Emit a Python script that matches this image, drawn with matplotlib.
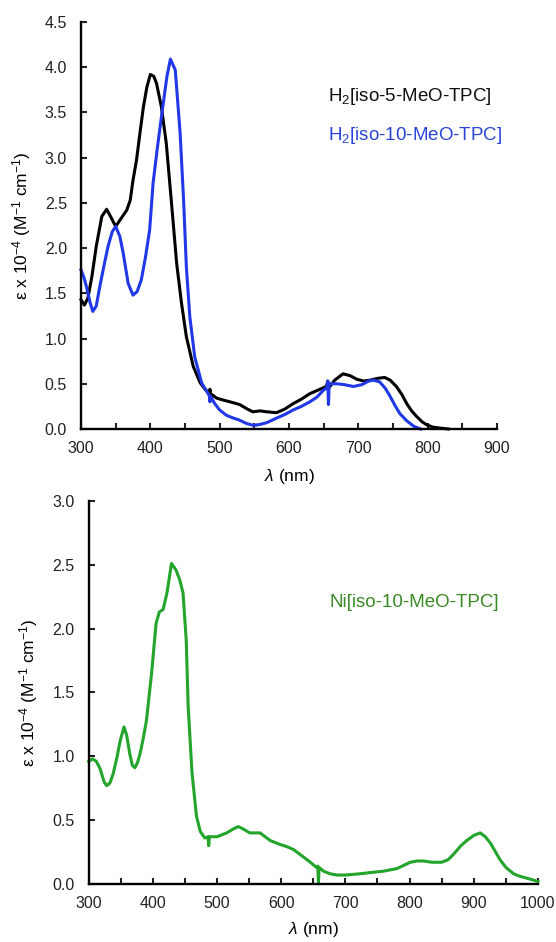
import matplotlib
matplotlib.use('Agg')
import matplotlib.pyplot as plt
from matplotlib.ticker import MultipleLocator, FormatStrFormatter

plt.rcParams['font.family'] = ['Liberation Sans', 'DejaVu Sans']
plt.rcParams['mathtext.fontset'] = 'custom'
plt.rcParams['mathtext.rm'] = 'Liberation Sans'
plt.rcParams['mathtext.it'] = 'Liberation Sans:italic'
plt.rcParams['mathtext.default'] = 'regular'

# H2[iso-5-MeO-TPC] (black)
wl_5 = [300, 305, 310, 316, 322, 330, 337, 344, 350, 358, 366, 371, 375, 380, 385,
        390, 395, 400, 405, 409, 416, 423, 431, 438, 445, 452, 462, 472, 480,
        485, 486, 487, 496, 505, 515, 529, 540, 548, 558, 568, 582, 594, 606,
        618, 630, 642, 654, 656, 658, 666, 678, 688, 698, 708, 717, 728, 738,
        746, 755, 763, 770, 777, 784, 792, 799, 808, 818, 830]
eps_5 = [1.43, 1.37, 1.45, 1.70, 2.02, 2.35, 2.43, 2.33, 2.24, 2.33, 2.42, 2.53, 2.75,
         2.97, 3.27, 3.56, 3.78, 3.92, 3.90, 3.82, 3.56, 3.16, 2.46, 1.83, 1.39,
         1.02, 0.69, 0.51, 0.43, 0.40, 0.44, 0.39, 0.34, 0.32, 0.30, 0.27, 0.22,
         0.19, 0.20, 0.19, 0.18, 0.22, 0.28, 0.33, 0.39, 0.43, 0.47, 0.53, 0.46,
         0.54, 0.61, 0.59, 0.55, 0.53, 0.54, 0.56, 0.57, 0.54, 0.47, 0.38, 0.28,
         0.20, 0.14, 0.08, 0.045, 0.02, 0.01, 0.0]

# H2[iso-10-MeO-TPC] (blue)
wl_10 = [300, 304, 308, 313, 317, 322, 327, 333, 339, 345, 350, 356, 361, 368, 375,
         381, 387, 393, 399, 404, 410, 416, 424, 429, 436, 443, 448, 452, 457,
         464, 474, 481, 485, 486, 487, 493, 500, 510, 520, 528, 539, 549, 558,
         568, 582, 594, 606, 618, 630, 640, 650, 655, 656, 657, 658, 669, 680,
         693, 705, 715, 722, 731, 739, 746, 753, 760, 770, 780, 790]
eps_10 = [1.76, 1.68, 1.57, 1.40, 1.30, 1.36, 1.57, 1.80, 2.02, 2.18, 2.24, 2.13, 1.94,
          1.61, 1.48, 1.52, 1.65, 1.90, 2.20, 2.72, 3.10, 3.45, 3.90, 4.09, 3.97,
          3.27, 2.53, 1.79, 1.24, 0.80, 0.51, 0.42, 0.37, 0.30, 0.36, 0.28, 0.21,
          0.15, 0.12, 0.10, 0.06, 0.04, 0.05, 0.07, 0.12, 0.16, 0.21, 0.25, 0.30,
          0.35, 0.43, 0.46, 0.53, 0.27, 0.50, 0.50, 0.49, 0.47, 0.49, 0.53, 0.54,
          0.52, 0.45, 0.36, 0.26, 0.17, 0.09, 0.03, 0.0]

# Ni[iso-10-MeO-TPC] (green)
wl_ni = [300, 306, 312, 318, 324, 328, 333, 338, 344, 349, 355, 359, 364, 368, 372,
         376, 380, 385, 390, 398, 405, 410, 416, 422, 429, 436, 442, 447, 452,
         455, 461, 468, 474, 481, 486, 487, 488, 500, 515, 525, 533, 541, 551,
         567, 575, 583, 598, 610, 619, 627, 635, 643, 650, 655, 657, 658, 659,
         666, 676, 687, 700, 723, 740, 759, 780, 801, 812, 822, 835, 850, 860,
         868, 880, 889, 900, 910, 918, 926, 934, 941, 950, 962, 972, 983, 1000]
eps_ni = [0.96, 0.98, 0.96, 0.90, 0.80, 0.77, 0.79, 0.86, 0.99, 1.12, 1.23, 1.17, 1.02,
          0.93, 0.91, 0.95, 1.02, 1.14, 1.28, 1.65, 2.04, 2.13, 2.15, 2.28, 2.51,
          2.46, 2.38, 2.28, 1.91, 1.39, 0.87, 0.53, 0.41, 0.36, 0.37, 0.30, 0.37,
          0.37, 0.40, 0.43, 0.45, 0.43, 0.40, 0.40, 0.37, 0.34, 0.31, 0.29, 0.27,
          0.24, 0.21, 0.18, 0.15, 0.13, 0.14, 0.0, 0.13, 0.10, 0.08, 0.07, 0.07,
          0.08, 0.09, 0.10, 0.12, 0.17, 0.18, 0.18, 0.17, 0.17, 0.19, 0.23, 0.30,
          0.34, 0.38, 0.40, 0.37, 0.32, 0.25, 0.19, 0.13, 0.08, 0.06, 0.045, 0.02]

ylab = r'ε x 10$^{-4}$ (M$^{-1}$ cm$^{-1}$)'
xlab = r'$\mathit{λ}$ (nm)'

black = '#000000'
blue = '#2038e6'
green = '#22a52a'

fig = plt.figure(figsize=(5.56, 9.42), dpi=100)
ax1 = fig.add_axes([0.1457, 0.5446, 0.748, 0.432])
ax2 = fig.add_axes([0.1595, 0.0616, 0.808, 0.4066])


def style(ax, xmax, ymax):
    ax.set_xlim(300, xmax)
    ax.set_ylim(0, ymax)
    for s in ['top', 'right']:
        ax.spines[s].set_visible(False)
    for s in ['left', 'bottom']:
        ax.spines[s].set_linewidth(1.7)
    ax.xaxis.set_major_locator(MultipleLocator(100))
    ax.xaxis.set_minor_locator(MultipleLocator(50))
    ax.yaxis.set_major_locator(MultipleLocator(0.5))
    ax.yaxis.set_major_formatter(FormatStrFormatter('%.1f'))
    ax.tick_params(which='both', direction='in', length=4, width=1.5,
                   labelsize=11.5, colors='#222222')
    ax.tick_params(axis='x', which='both', pad=9)
    ax.tick_params(axis='y', pad=10)
    ax.tick_params(which='minor', labelbottom=False)


style(ax1, 900, 4.5)
ax1.plot(wl_5, eps_5, color=black, lw=2.2, clip_on=False)
ax1.plot(wl_10, eps_10, color=blue, lw=2.2, clip_on=False)
ax1.set_ylabel(ylab, fontsize=12.5)
ax1.set_xlabel(xlab, fontsize=12.5)
ax1.yaxis.set_label_coords(-0.115, 0.5)
ax1.xaxis.set_label_coords(0.5, -0.093)
ax1.text(0.593, 0.817, r'H$_2$[iso-5-MeO-TPC]', transform=ax1.transAxes,
         fontsize=13.5, color='#111111', va='center')
ax1.text(0.593, 0.722, r'H$_2$[iso-10-MeO-TPC]', transform=ax1.transAxes,
         fontsize=13.5, color='#2a44d8', va='center')

style(ax2, 1000, 3.0)
ax2.plot(wl_ni, eps_ni, color=green, lw=2.2, clip_on=False)
ax2.set_ylabel(ylab, fontsize=12.5)
ax2.set_xlabel(xlab, fontsize=12.5)
ax2.yaxis.set_label_coords(-0.108, 0.5)
ax2.xaxis.set_label_coords(0.5, -0.093)
ax2.text(0.535, 0.735, 'Ni[iso-10-MeO-TPC]', transform=ax2.transAxes,
         fontsize=13.5, color='#3a8a25', va='center')

fig.savefig('out.png', dpi=100)
